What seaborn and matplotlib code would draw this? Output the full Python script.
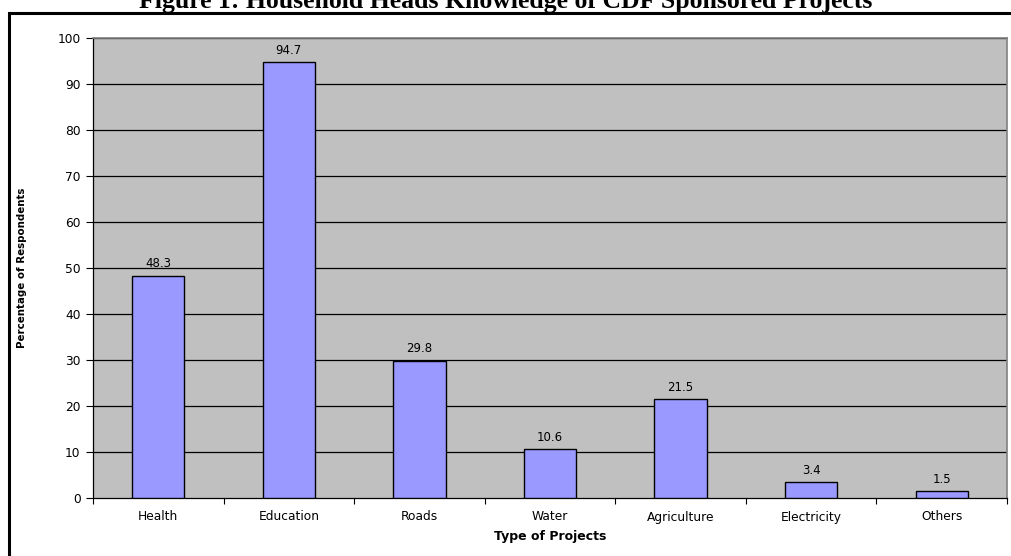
import matplotlib
matplotlib.use("Agg")
import matplotlib.pyplot as plt
import seaborn as sns
import pandas as pd
from matplotlib.patches import Rectangle

categories = ["Health", "Education", "Roads", "Water", "Agriculture", "Electricity", "Others"]
percentages = [48.3, 94.7, 29.8, 10.6, 21.5, 3.4, 1.5]
yticks = list(range(0, 101, 10))

df = pd.DataFrame({"project": categories, "pct": percentages})

sns.set_theme(style="white")
plt.rcParams["font.family"] = ["DejaVu Sans"]
plt.rcParams["text.color"] = "black"
plt.rcParams["axes.labelcolor"] = "black"
plt.rcParams["xtick.color"] = "black"
plt.rcParams["ytick.color"] = "black"

W, H = 1011, 556
fig = plt.figure(figsize=(W / 100, H / 100), dpi=100)
fig.patch.set_facecolor("white")

# outer frame (left and top edges visible)
fig.patches.append(Rectangle((9 / W, -0.05), 1.1, 1 - 13 / H + 0.05, transform=fig.transFigure,
                             fill=False, edgecolor="black", linewidth=2.2, zorder=0))

left, right, top, bottom = 93, 1007, 38, 498
ax = fig.add_axes([left / W, 1 - bottom / H, (right - left) / W, (bottom - top) / H])
ax.set_facecolor("#C0C0C0")

sns.barplot(data=df, x="project", y="pct", ax=ax, color="#9999FF", saturation=1,
            width=0.4, edgecolor="black", linewidth=1.0, zorder=3)

ax.set_ylim(0, 100)
ax.set_xlim(-0.5, len(categories) - 0.5)
ax.set_yticks(yticks)
for y in yticks[1:]:
    ax.axhline(y, color="black", linewidth=0.9, zorder=1)

for i, v in enumerate(percentages):
    ax.text(i, v + 1.2, f"{v}", ha="center", va="bottom", fontsize=8.5, color="black", zorder=4)

# tick marks sit between categories
ax.set_xticks([i + 0.5 for i in range(-1, len(categories))], minor=True)
ax.set_xticks(range(len(categories)))
ax.tick_params(axis="x", which="major", length=0, labelsize=8.8, pad=9, labelcolor="black")
ax.tick_params(axis="x", which="minor", length=4, width=0.8, color="black", direction="out", bottom=True)
ax.tick_params(axis="y", length=5, width=0.8, color="black", direction="out", left=True,
               labelsize=8.8, pad=4, labelcolor="black")

for side in ["top", "right"]:
    ax.spines[side].set_color("#808080")
    ax.spines[side].set_linewidth(1.2)
ax.spines["left"].set_color("black")
ax.spines["bottom"].set_color("black")
ax.spines["left"].set_linewidth(0.9)
ax.spines["bottom"].set_linewidth(0.9)

ax.set_xlabel("Type of Projects", fontsize=9, fontweight="bold", labelpad=5, color="black")
ax.set_ylabel("Percentage of Respondents", fontsize=7.4, fontweight="bold", labelpad=22, color="black")

fig.text(0.5, 1 - 8 / H, "Figure 1: Household Heads Knowledge of CDF Sponsored Projects",
         ha="center", va="baseline", fontsize=18.5, fontweight="bold", color="black",
         family=["Liberation Serif", "DejaVu Serif"])

fig.savefig("out.png", dpi=100)
